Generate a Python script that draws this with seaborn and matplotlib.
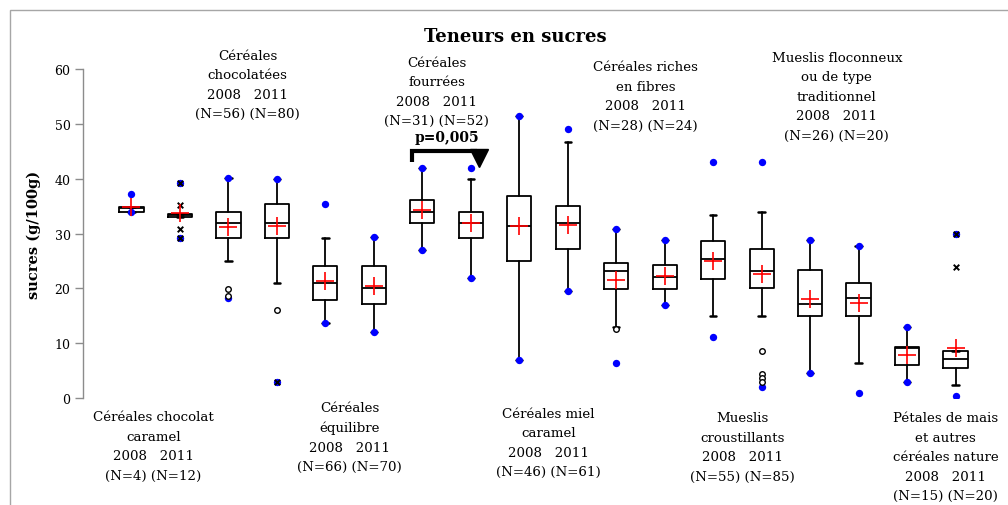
import matplotlib
matplotlib.use("Agg")
import matplotlib.pyplot as plt
from matplotlib.patches import Rectangle
import pandas as pd
import seaborn as sns

sns.set_style("white")
plt.rcParams["font.family"] = ["DejaVu Serif"]
plt.rcParams["text.color"] = "black"
plt.rcParams["axes.labelcolor"] = "black"
plt.rcParams["ytick.labelcolor"] = "black"

# 9 product groups, two boxes each (2008 then 2011)
groups = [
    "Céréales chocolat\ncaramel",
    "Céréales\nchocolatées",
    "Céréales\néquilibre",
    "Céréales\nfourrées",
    "Céréales miel\ncaramel",
    "Céréales riches\nen fibres",
    "Mueslis\ncroustillants",
    "Mueslis floconneux\nou de type\ntraditionnel",
    "Pétales de mais\net autres\ncéréales nature",
]
n_2008 = [4, 56, 66, 31, 46, 28, 55, 26, 15]
n_2011 = [12, 80, 70, 52, 61, 24, 85, 20, 20]

# box statistics, sucres g/100g, in plot order
q1 = [34.0, 33.0, 29.1, 29.1, 17.9, 17.1, 32.0, 29.1, 25.0, 27.2, 19.9, 19.9, 21.7, 20.1, 15.0, 15.0, 6.1, 5.4]
med = [34.7, 33.3, 31.9, 31.9, 21.0, 20.1, 34.0, 32.0, 31.4, 32.0, 23.1, 22.0, 25.4, 23.1, 17.1, 18.2, 9.1, 7.2]
q3 = [34.9, 33.6, 34.0, 35.3, 24.1, 24.1, 36.2, 34.0, 36.9, 35.0, 24.6, 24.3, 28.6, 27.1, 23.3, 20.9, 9.3, 8.6]
whislo = [34.0, 33.0, 25.0, 21.0, 13.7, 12.0, 27.0, 21.9, 6.9, 19.5, 13.0, 17.0, 15.0, 15.0, 4.6, 6.4, 3.0, 2.4]
whishi = [34.9, 33.6, 40.1, 39.9, 29.1, 29.4, 41.9, 39.9, 51.4, 46.6, 30.9, 28.9, 33.3, 33.9, 28.9, 27.8, 12.9, 8.6]
means = [34.8, 33.7, 31.1, 31.4, 21.3, 20.5, 34.3, 32.0, 31.4, 31.6, 21.6, 22.2, 25.0, 22.6, 18.0, 17.3, 7.9, 9.2]
mins = [34.0, 29.1, 18.3, 3.0, 13.7, 12.0, 27.0, 21.9, 6.9, 19.5, 6.3, 17.0, 11.2, 2.0, 4.6, 0.9, 3.0, 0.3]
maxs = [37.2, 39.2, 40.1, 39.9, 35.3, 29.4, 41.9, 41.9, 51.4, 49.0, 30.9, 28.9, 43.1, 43.1, 28.9, 27.8, 12.9, 29.9]
outliers = [[], [], [19.9, 18.6], [16.0], [], [], [], [], [], [], [12.5], [], [],
            [8.5, 4.3, 3.6, 2.9], [], [], [], []]
extremes = [[], [39.2, 35.2, 30.9, 29.1], [], [3.0], [], [], [], [], [], [], [], [], [],
            [], [], [], [], [29.9, 23.9]]

# label block placement (data units) : x shift, top y
label_dx = [-0.05, -0.1, 0, -0.2, 0.1, 0.1, 0.1, 0.05, 0.3]
label_top = [-2.2, 63.7, -0.5, 62.4, -1.6, 61.6, -2.4, 63.3, -2.4]

pos = list(range(1, len(q1) + 1))

fig = plt.figure(figsize=(10.08, 5.06), dpi=100)
ax = fig.add_axes([83 / 1008, 107 / 506, 921 / 1008, 329 / 506])

stats = [dict(q1=a, med=b, q3=c, whislo=d, whishi=e, fliers=[])
         for a, b, c, d, e in zip(q1, med, q3, whislo, whishi)]
line = dict(color="black", linewidth=1.3)
ax.bxp(stats, positions=pos, widths=0.5, capwidths=0.13, showfliers=False,
       boxprops=line, medianprops=line, whiskerprops=line,
       capprops=dict(color="black", linewidth=1.8))

pts_min_max = pd.DataFrame({"x": pos * 2, "y": mins + maxs})
pts_out = pd.DataFrame([(p, v) for p, vals in zip(pos, outliers) for v in vals], columns=["x", "y"])
pts_ext = pd.DataFrame([(p, v) for p, vals in zip(pos, extremes) for v in vals], columns=["x", "y"])

sns.scatterplot(data=pts_min_max, x="x", y="y", color="#0000ff", s=28, linewidth=0, ax=ax, zorder=4)
sns.scatterplot(data=pts_out, x="x", y="y", facecolor="white", edgecolor="black", s=16,
                linewidth=1.0, ax=ax, zorder=4)
sns.scatterplot(data=pts_ext, x="x", y="y", marker="x", color="black", s=16,
                linewidth=1.4, ax=ax, zorder=5)
sns.scatterplot(x=pos, y=means, marker="+", color="red", s=170, linewidth=1.2, ax=ax, zorder=6)

# group labels, alternating below / above the boxes
for i, name in enumerate(groups):
    txt = f"{name}\n2008   2011\n(N={n_2008[i]}) (N={n_2011[i]})"
    ax.text(2 * i + 1.5 + label_dx[i], label_top[i], txt, ha="center", va="top",
            fontsize=9.6, linespacing=1.65, clip_on=False)

# significance bracket between fourrées 2008 and 2011
ax.plot([6.78, 6.78, 8.12], [43.0, 45.0, 45.0], color="black", lw=3, solid_capstyle="butt",
        solid_joinstyle="miter")
ax.plot([8.16], [43.7], marker="v", markersize=13, color="black")
ax.text(7.5, 47.6, "p=0,005", ha="center", va="center", fontsize=10, fontweight="bold")

ax.set_xlim(0, 19)
ax.set_ylim(0, 60)
ax.set_yticks(range(0, 61, 10))
ax.set_xticks([])
ax.set_xlabel("")
ax.set_ylabel("sucres (g/100g)", fontsize=10.5, fontweight="bold", labelpad=10)
ax.tick_params(axis="y", left=True, length=6, width=1, color="#8c8c8c", labelsize=9, pad=3)
for side in ["top", "right", "bottom"]:
    ax.spines[side].set_visible(False)
ax.spines["left"].set_color("#8c8c8c")
ax.spines["left"].set_linewidth(1)
if ax.get_legend():
    ax.get_legend().remove()

fig.text(515 / 1008, 1 - 37 / 506, "Teneurs en sucres", ha="center", va="center",
         fontsize=13, fontweight="bold")

# thin grey frame around the chart area
fig.add_artist(Rectangle((10 / 1008, -0.5), 2, 0.5 + 1 - 11 / 506, transform=fig.transFigure,
                         fill=False, edgecolor="#a6a6a6", linewidth=1))

fig.savefig("out.png", dpi=100)
